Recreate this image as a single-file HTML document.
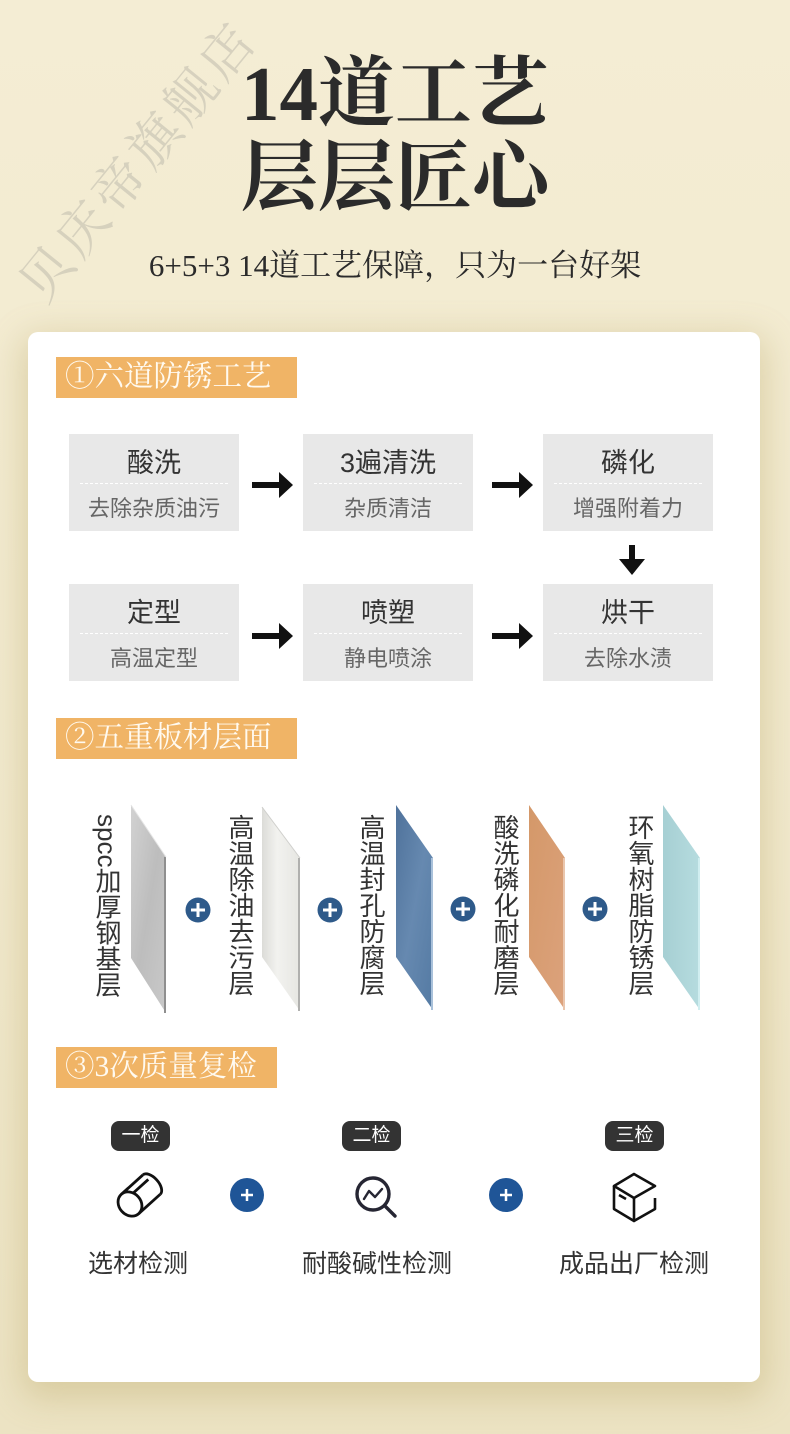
<!DOCTYPE html>
<html><head><meta charset="utf-8">
<style>
*{margin:0;padding:0;box-sizing:border-box}
html,body{width:790px;height:1434px;overflow:hidden}
body{position:relative;background:linear-gradient(180deg,#f4edd4 0%,#f1e9cd 60%,#ece3c3 100%);font-family:"Liberation Sans","Noto Sans CJK SC",sans-serif}
.abs{position:absolute}
.wm{position:absolute;left:-40px;top:132px;width:360px;height:60px;line-height:60px;text-align:center;font-family:"Liberation Serif","Noto Serif CJK SC",serif;font-size:52px;letter-spacing:5px;color:rgba(130,130,130,0.26);transform:rotate(-51deg);white-space:nowrap}
.t1{position:absolute;left:0;width:790px;text-align:center;font-family:"Liberation Serif","Noto Serif CJK SC",serif;font-weight:bold;font-size:77px;color:#2b2b2b;line-height:84px;white-space:nowrap}
.sub{position:absolute;left:0;width:790px;text-align:center;top:247px;font-family:"Liberation Serif","Noto Serif CJK SC",serif;font-size:31px;line-height:38px;color:#2b2b2b;white-space:nowrap}
.card{position:absolute;left:28px;top:332px;width:732px;height:1050px;background:#fff;border-radius:10px;box-shadow:0 10px 34px 6px rgba(175,155,85,0.33)}
.hd{position:absolute;left:56px;height:41px;background:#f0b466;color:#fffaf0;font-family:"Liberation Serif","Noto Serif CJK SC",serif;font-size:29.5px;line-height:41px;padding-left:9px;white-space:nowrap}
.box{position:absolute;width:170px;height:97px;background:#e8e8e8;text-align:center}
.box .a{position:absolute;left:0;width:170px;top:12px;font-size:27px;line-height:34px;color:#333}
.box .ln{position:absolute;left:11px;width:148px;top:49px;border-top:1px dashed #fff}
.box .b{position:absolute;left:0;width:170px;top:60px;font-size:22px;line-height:30px;color:#666}
.vt{position:absolute;top:814px;width:32px;writing-mode:vertical-rl;font-size:26px;line-height:32px;color:#333;white-space:nowrap}
.badge{position:absolute;top:1121px;width:59px;height:30px;border-radius:8px;background:#333;color:#fff;font-size:19px;line-height:30px;text-align:center}
.lab{position:absolute;top:1248px;width:260px;text-align:center;font-size:25px;line-height:32px;color:#333;white-space:nowrap}
</style></head>
<body>
<div class="wm">贝庆帝旗舰店</div>
<div class="t1" style="top:52px">14道工艺</div>
<div class="t1" style="top:136px">层层匠心</div>
<div class="sub">6+5+3 14道工艺保障，只为一台好架</div>

<div class="card"></div>

<div class="hd" style="top:357px;width:241px">①六道防锈工艺</div>
<div class="hd" style="top:718px;width:241px">②五重板材层面</div>
<div class="hd" style="top:1047px;width:221px">③3次质量复检</div>

<div class="box" style="left:69px;top:434px"><div class="a">酸洗</div><div class="ln"></div><div class="b">去除杂质油污</div></div>
<div class="box" style="left:303px;top:434px"><div class="a">3遍清洗</div><div class="ln"></div><div class="b">杂质清洁</div></div>
<div class="box" style="left:543px;top:434px"><div class="a">磷化</div><div class="ln"></div><div class="b">增强附着力</div></div>
<div class="box" style="left:69px;top:584px"><div class="a">定型</div><div class="ln"></div><div class="b">高温定型</div></div>
<div class="box" style="left:303px;top:584px"><div class="a">喷塑</div><div class="ln"></div><div class="b">静电喷涂</div></div>
<div class="box" style="left:543px;top:584px"><div class="a">烘干</div><div class="ln"></div><div class="b">去除水渍</div></div>

<svg class="abs" style="left:0;top:0" width="790" height="1434" viewBox="0 0 790 1434">
  <defs>
    <linearGradient id="g1" x1="0" y1="0" x2="1" y2="1"><stop offset="0" stop-color="#d2d2d2"/><stop offset="0.5" stop-color="#bdbdbd"/><stop offset="1" stop-color="#c9c9c9"/></linearGradient>
    <linearGradient id="g2" x1="0" y1="0" x2="1" y2="0"><stop offset="0" stop-color="#dcdcd8"/><stop offset="0.4" stop-color="#f2f2ef"/><stop offset="1" stop-color="#e6e6e2"/></linearGradient>
    <linearGradient id="g3" x1="0" y1="0" x2="1" y2="1"><stop offset="0" stop-color="#4f729b"/><stop offset="0.5" stop-color="#6689b0"/><stop offset="1" stop-color="#547aa3"/></linearGradient>
    <linearGradient id="g4" x1="0" y1="0" x2="1" y2="1"><stop offset="0" stop-color="#d49869"/><stop offset="1" stop-color="#dca27c"/></linearGradient>
    <linearGradient id="g5" x1="0" y1="0" x2="1" y2="0"><stop offset="0" stop-color="#a6cfd3"/><stop offset="1" stop-color="#b6dcdf"/></linearGradient>
  </defs>
  <g fill="#111">
    <rect x="252" y="482" width="28" height="6"/><polygon points="279,472 293,485 279,498"/>
    <rect x="492" y="482" width="28" height="6"/><polygon points="519,472 533,485 519,498"/>
    <rect x="252" y="633" width="28" height="6"/><polygon points="279,623 293,636 279,649"/>
    <rect x="492" y="633" width="28" height="6"/><polygon points="519,623 533,636 519,649"/>
    <rect x="629" y="545" width="6" height="16"/><polygon points="619,559 645,559 632,575"/>
  </g>
  <polygon points="131,805 166,857 166,1013 131,958" fill="url(#g1)"/>
  <line x1="165" y1="857" x2="165" y2="1013" stroke="#8f8f8f" stroke-width="2"/>
  <line x1="131" y1="805" x2="166" y2="857" stroke="#e6e6e6" stroke-width="1"/>
  <polygon points="262,807 300,858 300,1011 262,957" fill="url(#g2)"/>
  <line x1="299" y1="858" x2="299" y2="1011" stroke="#b0b0ae" stroke-width="2"/>
  <line x1="262" y1="807" x2="300" y2="858" stroke="#cfcfcc" stroke-width="1"/>
  <polygon points="396,805 433,858 433,1010 396,957" fill="url(#g3)"/>
  <line x1="432" y1="858" x2="432" y2="1010" stroke="#a9c1da" stroke-width="2"/>
  <polygon points="529,805 565,858 565,1010 529,957" fill="url(#g4)"/>
  <line x1="564" y1="858" x2="564" y2="1010" stroke="#eac6ad" stroke-width="2"/>
  <polygon points="663,805 700,858 700,1010 663,957" fill="url(#g5)"/>
  <line x1="699" y1="858" x2="699" y2="1010" stroke="#d0eef0" stroke-width="2"/>
  <g>
    <circle cx="198" cy="910" r="12.5" fill="#2e5a8a"/>
    <circle cx="330" cy="910" r="12.5" fill="#2e5a8a"/>
    <circle cx="463" cy="909" r="12.5" fill="#2e5a8a"/>
    <circle cx="595" cy="909" r="12.5" fill="#2e5a8a"/>
    <g stroke="#fff" stroke-width="3">
      <line x1="191" y1="910" x2="205" y2="910"/><line x1="198" y1="903" x2="198" y2="917"/>
      <line x1="323" y1="910" x2="337" y2="910"/><line x1="330" y1="903" x2="330" y2="917"/>
      <line x1="456" y1="909" x2="470" y2="909"/><line x1="463" y1="902" x2="463" y2="916"/>
      <line x1="588" y1="909" x2="602" y2="909"/><line x1="595" y1="902" x2="595" y2="916"/>
    </g>
  </g>
  <circle cx="247" cy="1195" r="17" fill="#1f5597"/>
  <circle cx="506" cy="1195" r="17" fill="#1f5597"/>
  <g stroke="#fff" stroke-width="2.5">
    <line x1="241" y1="1195" x2="253" y2="1195"/><line x1="247" y1="1189" x2="247" y2="1201"/>
    <line x1="500" y1="1195" x2="512" y2="1195"/><line x1="506" y1="1189" x2="506" y2="1201"/>
  </g>
  <g transform="translate(130,1204) rotate(-42)" fill="none" stroke="#111" stroke-width="2.8" stroke-linejoin="round">
    <line x1="0" y1="-13" x2="29" y2="-13"/>
    <line x1="0" y1="13" x2="29" y2="13"/>
    <path d="M29,-13 A7,13 0 0 1 29,13"/>
    <line x1="7" y1="-6" x2="30" y2="-6"/>
    <ellipse cx="0" cy="0" rx="11" ry="13" fill="#fff"/>
  </g>
  <g fill="none" stroke="#262633" stroke-width="3.4" stroke-linecap="round" stroke-linejoin="round">
    <circle cx="373" cy="1194" r="16"/>
    <line x1="385" y1="1206" x2="395" y2="1216"/>
    <polyline points="364,1199 369,1191 375,1197 382,1189" stroke-width="2.4"/>
  </g>
  <g fill="none" stroke="#111" stroke-width="2.6" stroke-linejoin="round">
    <polygon points="634,1174 655,1186 634,1198 614,1186"/>
    <polyline points="614,1186 614,1209 634,1221 634,1198"/>
    <polyline points="634,1221 655,1209 655,1198"/>
    <line x1="619" y1="1195" x2="626" y2="1199"/>
  </g>
</svg>

<div class="vt" style="left:91px">spcc加厚钢基层</div>
<div class="vt" style="left:224px">高温除油去污层</div>
<div class="vt" style="left:355px">高温封孔防腐层</div>
<div class="vt" style="left:489px">酸洗磷化耐磨层</div>
<div class="vt" style="left:624px">环氧树脂防锈层</div>

<div class="badge" style="left:111px">一检</div>
<div class="badge" style="left:342px">二检</div>
<div class="badge" style="left:605px">三检</div>

<div class="lab" style="left:8px">选材检测</div>
<div class="lab" style="left:247px">耐酸碱性检测</div>
<div class="lab" style="left:504px">成品出厂检测</div>
</body></html>
